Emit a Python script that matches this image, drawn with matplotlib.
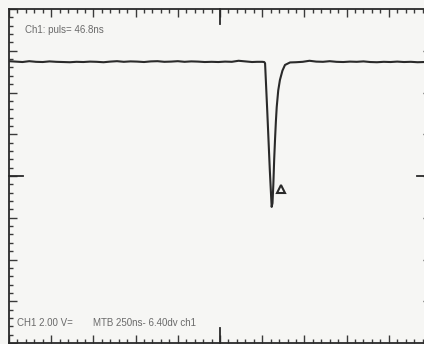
import matplotlib.pyplot as plt
from matplotlib.ticker import MultipleLocator

# oscilloscope capture: 250 ns/div, 2.00 V/div, 10 x 8 divisions
time_ns = [0, 40, 80, 120, 160, 200, 240, 280, 320, 360, 400, 440, 480, 520,
           560, 600, 640, 680, 720, 760, 800, 840, 880, 920, 960, 1000, 1040,
           1080, 1120, 1160, 1200, 1240, 1280, 1320, 1360, 1400, 1440, 1470,
           1500, 1512, 1517, 1530, 1545, 1556, 1561, 1566, 1571, 1576, 1581,
           1586, 1595, 1605, 1620, 1635, 1650, 1665, 1700, 1740, 1780, 1820,
           1860, 1900, 1940, 1980, 2020, 2060, 2100, 2140, 2180, 2220, 2260,
           2300, 2340, 2380, 2420, 2460, 2500]
volts = [5.50, 5.48, 5.46, 5.50, 5.47, 5.46, 5.49, 5.47, 5.46, 5.45, 5.47,
         5.46, 5.48, 5.47, 5.45, 5.48, 5.50, 5.47, 5.49, 5.48, 5.46, 5.49,
         5.50, 5.47, 5.48, 5.50, 5.47, 5.49, 5.48, 5.46, 5.47, 5.46, 5.48,
         5.47, 5.52, 5.49, 5.46, 5.47, 5.47, 5.46, 5.40, 3.10, 0.30, -1.48,
         -1.30, -0.40, 0.80, 1.75, 2.60, 3.30, 4.10, 4.60, 5.05, 5.32, 5.38,
         5.44, 5.45, 5.47, 5.52, 5.48, 5.47, 5.50, 5.47, 5.46, 5.48, 5.47,
         5.49, 5.46, 5.45, 5.47, 5.46, 5.48, 5.46, 5.47, 5.45, 5.46, 5.45]
marker_t = [1610]
marker_v = [-0.62]
caption_top = "Ch1: puls= 46.8ns"
caption_ch = "CH1 2.00 V="
caption_mtb = "MTB 250ns- 6.40dv ch1"

paper = "#f6f6f4"
ink = "#2a2a2a"
W, H = 424, 344

fig = plt.figure(figsize=(W / 100, H / 100), dpi=100, facecolor=paper)
# the screen frame runs past the right edge of the scan
ax = fig.add_axes([9 / W, 1 / H, 422 / W, 334 / H], facecolor=paper)

ax.plot(time_ns, volts, color=ink, lw=1.5, solid_joinstyle="round")
ax.plot(marker_t, marker_v, marker="^", ms=5.5, mfc="none", mec=ink, mew=1.5,
        ls="none")

ax.set_xlim(0, 2500)
ax.set_ylim(-8, 8)
ax.xaxis.set_major_locator(MultipleLocator(250))
ax.xaxis.set_minor_locator(MultipleLocator(50))
ax.yaxis.set_major_locator(MultipleLocator(2))
ax.yaxis.set_minor_locator(MultipleLocator(0.4))
ax.tick_params(which="both", direction="in", top=True, right=True,
               labelbottom=False, labelleft=False, color="#3a3a3a", width=1.0)
ax.tick_params(which="major", length=5.5)
ax.tick_params(which="minor", length=3)
for s in ax.spines.values():
    s.set_color(ink)
    s.set_linewidth(1.3)

# longer centre ticks on each edge
cx, cy = 0.5, 0.5
lx, ly = 15 / 334, 14 / 422
for xs, ys in [([cx, cx], [0, lx]), ([cx, cx], [1, 1 - lx]),
               ([0, ly], [cy, cy]), ([1, 1 - ly], [cy, cy])]:
    ax.plot(xs, ys, color=ink, lw=1.3, transform=ax.transAxes, clip_on=False)

txt = dict(color="#6a6a6a", fontsize=7.0, family="Liberation Sans", va="center")
fig.text(25 / W, 1 - 30 / H, caption_top, **txt)
fig.text(17 / W, 1 - 323 / H, caption_ch, **txt)
fig.text(93 / W, 1 - 323 / H, caption_mtb, **txt)

fig.savefig("out.png", dpi=100, facecolor=paper)
